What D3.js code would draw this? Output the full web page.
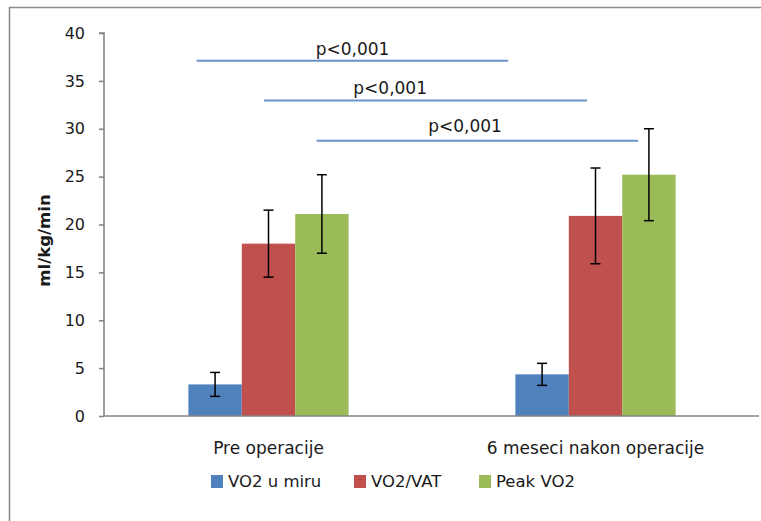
<!DOCTYPE html>
<html>
<head>
<meta charset="utf-8">
<script src="https://cdn.jsdelivr.net/npm/d3@7"></script>
<style>
  html, body { margin: 0; padding: 0; background: #fff; }
  svg { display: block; }
  text { font-family: "DejaVu Sans", sans-serif; fill: #1a1a1a; }
</style>
</head>
<body>
<svg id="chart" width="761" height="521"></svg>
<script>
// Categories and series
const categories = ["Pre operacije", "6 meseci nakon operacije"];
const seriesNames = ["VO2 u miru", "VO2/VAT", "Peak VO2"];
const seriesColors = ["#4F81BD", "#C0504D", "#9BBB59"];

// Mean values per series (one value per category)
const vo2Rest = [3.3, 4.35];
const vo2Vat = [18.0, 20.9];
const peakVo2 = [21.1, 25.2];

// Standard deviations per series
const vo2RestSd = [1.25, 1.15];
const vo2VatSd = [3.5, 5.0];
const peakVo2Sd = [4.1, 4.8];

const yTicks = [0, 5, 10, 15, 20, 25, 30, 35, 40];

// Significance brackets: x in category units (0 = first group, 1 = second group), y in ml/kg/min
const sigLabels = ["p<0,001", "p<0,001", "p<0,001"];
const sigLineY = [37.1, 32.95, 28.75];
const sigLineX1 = [-0.22, -0.014, 0.147];
const sigLineX2 = [0.733, 0.974, 1.13];
const sigLabelX = [0.257, 0.372, 0.601];
const sigLabelY = [37.7, 33.6, 29.7];

const means = [vo2Rest, vo2Vat, peakVo2];
const sds = [vo2RestSd, vo2VatSd, peakVo2Sd];

const svg = d3.select("#chart");

// Outer frame (left and top edges)
svg.append("line").attr("x1", 9.5).attr("x2", 9.5).attr("y1", 7).attr("y2", 521)
  .attr("stroke", "#8c8c8c").attr("stroke-width", 1.6);
svg.append("line").attr("x1", 9).attr("x2", 761).attr("y1", 7.5).attr("y2", 7.5)
  .attr("stroke", "#8c8c8c").attr("stroke-width", 1.6);

const plotLeft = 105, plotRight = 759, plotTop = 33, plotBottom = 416;

const y = d3.scaleLinear().domain([0, 40]).range([plotBottom, plotTop]);
const x0 = d3.scaleBand().domain(categories).range([plotLeft, plotRight]).padding(0);
const groupWidth = x0.bandwidth() * 0.49;
const x1 = d3.scaleBand().domain(seriesNames)
  .range([(x0.bandwidth() - groupWidth) / 2, (x0.bandwidth() + groupWidth) / 2]).padding(0);
const xc = d3.scaleLinear().domain([0, 1])
  .range([x0(categories[0]) + x0.bandwidth() / 2, x0(categories[1]) + x0.bandwidth() / 2]);

// Y axis
const yAxis = svg.append("g").attr("transform", `translate(${plotLeft - 1},0)`)
  .call(d3.axisLeft(y).tickValues(yTicks).tickSize(5).tickPadding(14).tickFormat(d3.format("d")));
yAxis.select(".domain").attr("stroke", "#868686").attr("stroke-width", 1.6)
  .attr("d", `M-5,${y(40)}H0V${y(0)}`);
yAxis.selectAll(".tick line").attr("stroke", "#868686").attr("stroke-width", 1.6);
yAxis.selectAll(".tick text").attr("font-size", 16).attr("font-family", "DejaVu Sans").attr("fill", "#1a1a1a");

// Y axis title
svg.append("text")
  .attr("transform", `translate(50,${(plotTop + plotBottom) / 2 + 16}) rotate(-90)`)
  .attr("text-anchor", "middle")
  .attr("font-size", 16.5).attr("font-weight", "bold")
  .text("ml/kg/min");

// Bars
const rows = [];
seriesNames.forEach((s, si) => {
  categories.forEach((c, ci) => {
    rows.push({ series: s, cat: c, value: means[si][ci], sd: sds[si][ci], color: seriesColors[si] });
  });
});

svg.append("g").selectAll("rect").data(rows).join("rect")
  .attr("x", d => x0(d.cat) + x1(d.series))
  .attr("width", x1.bandwidth())
  .attr("y", d => y(d.value))
  .attr("height", d => y(0) - y(d.value))
  .attr("fill", d => d.color);

// X axis baseline
svg.append("line").attr("x1", plotLeft - 1).attr("x2", plotRight)
  .attr("y1", y(0)).attr("y2", y(0))
  .attr("stroke", "#868686").attr("stroke-width", 1.6);

// Error bars
const eb = svg.append("g").attr("stroke", "#000").attr("stroke-width", 1.5);
rows.forEach(d => {
  const cx = x0(d.cat) + x1(d.series) + x1.bandwidth() / 2;
  const top = y(d.value + d.sd), bot = y(d.value - d.sd);
  eb.append("line").attr("x1", cx).attr("x2", cx).attr("y1", top).attr("y2", bot);
  eb.append("line").attr("x1", cx - 5).attr("x2", cx + 5).attr("y1", top).attr("y2", top);
  eb.append("line").attr("x1", cx - 5).attr("x2", cx + 5).attr("y1", bot).attr("y2", bot);
});

// Category labels
svg.append("g").selectAll("text").data(categories).join("text")
  .attr("x", d => x0(d) + x0.bandwidth() / 2)
  .attr("y", 454)
  .attr("text-anchor", "middle")
  .attr("font-size", 17)
  .text(d => d);

// Significance brackets
sigLabels.forEach((lab, i) => {
  svg.append("line")
    .attr("x1", xc(sigLineX1[i])).attr("x2", xc(sigLineX2[i]))
    .attr("y1", y(sigLineY[i])).attr("y2", y(sigLineY[i]))
    .attr("stroke", "#6a93c8").attr("stroke-width", 2);
  svg.append("text")
    .attr("x", xc(sigLabelX[i])).attr("y", y(sigLabelY[i]))
    .attr("text-anchor", "middle").attr("font-size", 17)
    .text(lab);
});

// Legend
const legendX = [211, 354, 479];
const legend = svg.append("g");
seriesNames.forEach((s, i) => {
  legend.append("rect").attr("x", legendX[i]).attr("y", 475).attr("width", 12).attr("height", 13)
    .attr("fill", seriesColors[i]);
  legend.append("text").attr("x", legendX[i] + 17).attr("y", 487)
    .attr("font-size", 16.5).text(s);
});
</script>
</body>
</html>
